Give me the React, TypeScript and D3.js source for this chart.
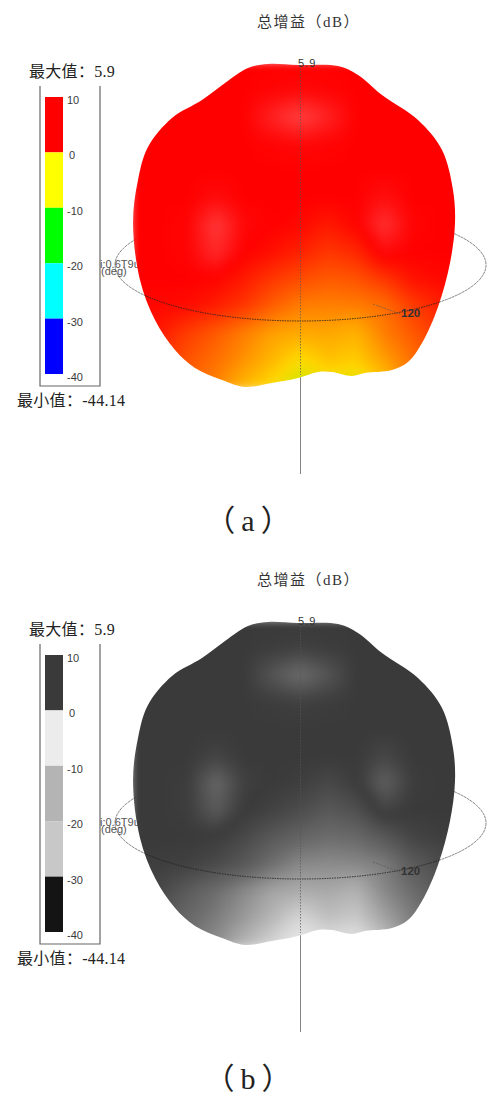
import React from "react"
import * as d3 from "d3"

// legend
const legendTicks = [10, 0, -10, -20, -30, -40]
const bandsColor = ["#ff0000", "#ffff00", "#00ff00", "#00ffff", "#0000ff"]
const bandsGray = ["#3a3a3a", "#ececec", "#b4b4b4", "#c8c8c8", "#141414"]

// pattern silhouette, offsets from the axis origin
const outlineX = [-32, -2, 38, 58, 82, 118, 142, 153, 155, 150, 138, 122, 108, 92, 65, 52, 32, 18, -2, -28, -55, -78, -105, -125, -145, -160, -167, -162, -152, -128, -98, -75, -52]
const outlineY = [-161, -160, -159, -150, -130, -105, -75, -35, -2, 38, 82, 118, 137, 145, 148, 151, 147, 147, 153, 158, 162, 155, 143, 125, 95, 55, -2, -45, -78, -107, -125, -142, -157]

// gain, dB
const gridX = [-168, -140, -112, -84, -56, -28, 0, 28, 56, 84, 112, 140, 168]
const gridY = [-162, -135, -108, -81, -54, -27, 0, 27, 54, 81, 108, 135, 162]
const gain = [
    [4.5, 4.5, 4.5, 4.5, 4.5, 4.5, 4.5, 4.5, 4.5, 4.5, 4.5, 4.5, 4.5],
    [4.5, 4.5, 4.5, 4.5, 4.5, 4.6, 4.7, 4.6, 4.5, 4.5, 4.5, 4.5, 4.5],
    [4.5, 4.5, 4.5, 4.5, 4.5, 5.4, 6.2, 5.4, 4.5, 4.5, 4.5, 4.5, 4.5],
    [4.5, 4.5, 4.5, 4.5, 4.5, 4.6, 4.7, 4.6, 4.5, 4.5, 4.5, 4.5, 4.5],
    [4.5, 4.5, 4.5, 4.5, 4.5, 4.5, 4.5, 4.5, 4.5, 4.5, 4.5, 4.5, 4.5],
    [4.5, 4.5, 4.5, 4.8, 4.5, 4.5, 4.5, 4.5, 4.5, 4.9, 4.5, 4.5, 4.5],
    [4.5, 4.5, 4.6, 6, 4.7, 4.5, 4.3, 3.8, 4.4, 5.8, 4.6, 4.5, 4.5],
    [4.5, 4.5, 4.6, 5.6, 4.5, 4.1, 3.6, 3, 3.4, 4.8, 4.5, 4.5, 4.5],
    [4.5, 4.5, 4.5, 4.4, 3.8, 3, 2.4, 2, 2.2, 3, 4, 4.3, 4.4],
    [4.3, 4.3, 4.2, 3.7, 3, 1.9, 1, 0.9, 1, 1.4, 2.8, 3.6, 3.8],
    [3.9, 3.8, 2.8, 2, 1, 0, -0.3, -0.2, -0.6, 1, 2, 3, 3.4],
    [3.4, 3, 2.2, 1.4, 0.4, -0.8, -2.2, -1.2, -1.6, 0, 1.4, 2.4, 3],
    [2.8, 2.2, 1.6, 0.8, -0.8, -2.2, -4, -3, -3.5, -1.5, 1, 2, 2.4],
]

const gainStops = [-4, -2, 0, 2, 4.5, 6.2]
const rampColor = ["#c8e800", "#ffd800", "#ffa000", "#ff5a00", "#ff0000", "#ff4040"]
const rampGray = ["#ececec", "#d2d2d2", "#a4a4a4", "#6c6c6c", "#3a3a3a", "#6c6c6c"]

const serif = "'Liberation Serif', 'Noto Sans CJK SC', serif"
const sans = "'Liberation Sans', Arial, sans-serif"

const xScale = d3.scaleLinear().domain([-167, 155]).range([133, 455])
const yScale = d3.scaleLinear().domain([-161, 162]).range([64, 387])
const legendScale = d3.scaleLinear().domain([10, -40]).range([97, 374])

const outlinePath = d3.line<number>()
    .x(i => xScale(outlineX[i]))
    .y(i => yScale(outlineY[i]))
    .curve(d3.curveCatmullRomClosed)(outlineX.map((_, i) => i)) as string

// finer raster of the gain table so the surface shades smoothly
const step = 4
const fineX = d3.range(gridX[0], gridX[gridX.length - 1] + step, step)
const fineY = d3.range(gridY[0], gridY[gridY.length - 1] + step, step)
const colAt = d3.scaleLinear().domain(gridX).range(gridX.map((_, i) => i)).clamp(true)
const rowAt = d3.scaleLinear().domain(gridY).range(gridY.map((_, i) => i)).clamp(true)
const gainAt = (x: number, y: number) => {
    const c = colAt(x), r = rowAt(y)
    const c0 = Math.min(Math.floor(c), gridX.length - 2), r0 = Math.min(Math.floor(r), gridY.length - 2)
    const top = d3.interpolateNumber(gain[r0][c0], gain[r0][c0 + 1])(c - c0)
    const bottom = d3.interpolateNumber(gain[r0 + 1][c0], gain[r0 + 1][c0 + 1])(c - c0)
    return d3.interpolateNumber(top, bottom)(r - r0)
}

const Panel = ({id, dy, bands, ramp, caption}: {id: string, dy: number, bands: string[], ramp: string[], caption: string}) => {
    const color = d3.scaleLinear<string>().domain(gainStops).range(ramp).clamp(true)
    return (
        <g transform={`translate(0, ${dy})`}>
            <text x={257} y={27} fontFamily={serif} fontSize={15} letterSpacing={1.5} fill="#333">总增益（dB）</text>
            <text x={29} y={77} fontFamily={serif} fontSize={16} letterSpacing={0.3} fill="#222">最大值：5.9</text>
            <text x={17} y={406} fontFamily={serif} fontSize={16} letterSpacing={0.3} fill="#222">最小值：-44.14</text>

            {/* legend frame */}
            <path d="M40,86V386H100V86" fill="none" stroke="#666" strokeWidth={1.2} />
            {bands.map((c, i) => (
                <rect key={c} x={45} width={18} y={legendScale(legendTicks[i])}
                      height={legendScale(legendTicks[i + 1]) - legendScale(legendTicks[i])} fill={c} />
            ))}
            {legendTicks.map(t => (
                <text key={t} x={t === 0 ? 69 : 67} y={legendScale(t) + 7} fontFamily={sans} fontSize={11} fill="#3a3a3a">{t}</text>
            ))}

            {/* ring and axis behind the pattern */}
            <ellipse cx={300.5} cy={265} rx={185.5} ry={56} fill="none" stroke="#666" strokeWidth={0.8} strokeDasharray="3 0.6" />
            <line x1={300.5} x2={300.5} y1={375} y2={474} stroke="#777" strokeWidth={0.9} />
            <text x={100} y={268} fontFamily={sans} fontSize={11} fill="#555">i:0.6T9utz</text>
            <text x={101} y={275} fontFamily={sans} fontSize={11} fill="#555">(deg)</text>

            <defs>
                <clipPath id={`clip-${id}`}><path d={outlinePath} /></clipPath>
                <filter id={`blur-${id}`} x="-5%" y="-5%" width="110%" height="110%" colorInterpolationFilters="sRGB">
                    <feGaussianBlur stdDeviation={5} />
                </filter>
            </defs>
            <g clipPath={`url(#clip-${id})`}>
                <g filter={`url(#blur-${id})`}>
                    {fineY.map(y => fineX.map(x => (
                        <rect key={`${x}-${y}`} x={xScale(x) - step / 2} y={yScale(y) - step / 2}
                              width={step + 0.6} height={step + 0.6} fill={color(gainAt(x, y))} />
                    )))}
                </g>
                {/* front half of the ring over the pattern */}
                <path d="M115,265A185.5,56 0 0 0 486,265" fill="none" stroke="#222" strokeWidth={0.9} strokeDasharray="1.5 1" />
            </g>

            <line x1={300.5} x2={300.5} y1={65} y2={375} stroke="#555" strokeWidth={0.7} strokeDasharray="1.5 1.5" />
            <line x1={373} x2={400} y1={304} y2={314} stroke="#555" strokeWidth={0.6} strokeDasharray="2 1" />
            <text x={298} y={67} fontFamily={sans} fontSize={11} letterSpacing={1} fill="#333">5.9</text>
            <text x={401} y={317} fontFamily={sans} fontSize={11.5} fontWeight={700} fill="#333">120</text>
            <text x={251} y={531} textAnchor="middle" fontFamily={serif} fontSize={30} letterSpacing={6} fill="#222">{caption}</text>
        </g>
    )
}

export default function App() {
    return (
        <svg width={500} height={1104} viewBox="0 0 500 1104"
             style={{position: "absolute", left: 0, top: 0, display: "block", background: "#fff"}}>
            <Panel id="a" dy={0} bands={bandsColor} ramp={rampColor} caption="（a）" />
            <Panel id="b" dy={558} bands={bandsGray} ramp={rampGray} caption="（b）" />
        </svg>
    )
}
